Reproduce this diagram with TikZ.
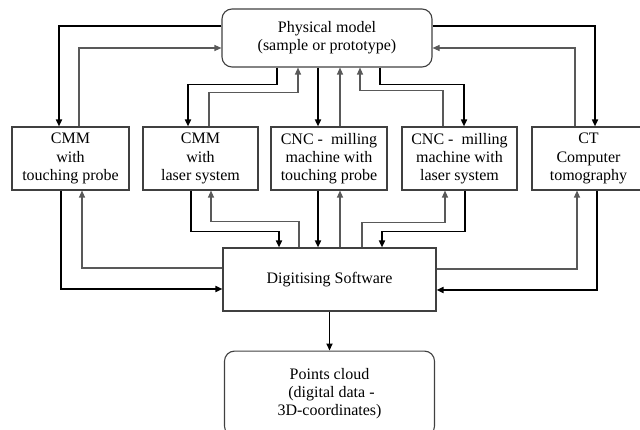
\documentclass[tikz,border=0pt]{standalone}
\usepackage{fontspec}
\setmainfont{Liberation Serif}
\usetikzlibrary{arrows.meta, positioning}

\begin{document}
\begin{tikzpicture}[x=1pt, y=1pt,
    box/.style={draw=black!75, line width=1.1pt, align=center, minimum height=63pt, inner sep=2pt, font=\fontsize{16}{18.3}\selectfont},
    rbox/.style={box, rounded corners=10pt},
    fwd/.style={-{Triangle[length=7pt,width=6pt]}, line width=1.6pt, black},
    back/.style={-{Triangle[length=7pt,width=6pt]}, line width=1.1pt, black!65}]
    \useasboundingbox (0,0) rectangle (640,-430);

    \node[rbox, minimum width=210pt, minimum height=58pt] (pm) at (327,-38) {Physical model\\(sample or prototype)};
    \node[box, minimum width=117pt] (cmm1) at (70.5,-158.5) {CMM\\with\\touching probe};
    \node[box, minimum width=115pt] (cmm2) at (200.5,-158.5) {CMM\\with\\laser system};
    \node[box, minimum width=116pt] (cnc1) at (329,-158.5) {CNC -\ \ milling\\machine with\\touching probe};
    \node[box, minimum width=115pt] (cnc2) at (459.5,-158.5) {CNC -\ \ milling\\machine with\\laser system};
    \node[box, minimum width=113pt] (ct) at (588.5,-158.5) {CT\\Computer\\tomography};
    \node[box, minimum width=213pt] (ds) at (329.5,-279.5) {Digitising Software};
    \node[rbox, minimum width=210pt, minimum height=85pt, below=39pt of ds] (pc) {Points cloud\\\ (digital data -\\3D-coordinates)};

    % model <-> measuring devices
    \draw[fwd] ([yshift=12]pm.west) -| ([xshift=-11.5]cmm1.north);
    \draw[back] ([xshift=8.5]cmm1.north) |- ([yshift=-10]pm.west);
    \draw[fwd] ([xshift=-50]pm.south) -- ++(0,-17) -| ([xshift=-12.5]cmm2.north);
    \draw[back] ([xshift=8.5]cmm2.north) -- ++(0,34) -| ([xshift=-29]pm.south);
    \draw[fwd] ([xshift=-11]cnc1.north |- pm.south) -- ([xshift=-11]cnc1.north);
    \draw[back] ([xshift=11]cnc1.north) -- ([xshift=11]cnc1.north |- pm.south);
    \draw[back] ([xshift=-16.5]cnc2.north) -- ++(0,36) -| ([xshift=33]pm.south);
    \draw[fwd] ([xshift=53]pm.south) -- ++(0,-17) -| ([xshift=4.5]cnc2.north);
    \draw[fwd] ([yshift=12]pm.east) -| ([xshift=6.5]ct.north);
    \draw[back] ([xshift=-13.5]ct.north) |- ([yshift=-10]pm.east);

    % measuring devices <-> software
    \draw[fwd] ([xshift=-9.5]cmm1.south) |- ([yshift=-9.5]ds.west);
    \draw[back] ([yshift=11.5]ds.west) -| ([xshift=11.5]cmm1.south);
    \draw[fwd] ([xshift=-9.5]cmm2.south) -- ++(0,-41) -| ([xshift=-50.5]ds.north);
    \draw[back] ([xshift=-30.5]ds.north) -- ++(0,26) -| ([xshift=10.5]cmm2.south);
    \draw[fwd] ([xshift=-11]cnc1.south) -- ([xshift=-11]cnc1.south |- ds.north);
    \draw[back] ([xshift=11]cnc1.south |- ds.north) -- ([xshift=11]cnc1.south);
    \draw[back] ([xshift=32.5]ds.north) -- ++(0,25) -| ([xshift=-14.5]cnc2.south);
    \draw[fwd] ([xshift=5.5]cnc2.south) -- ++(0,-41) -| ([xshift=52.5]ds.north);
    \draw[back] ([yshift=10.5]ds.east) -| ([xshift=-11.5]ct.south);
    \draw[fwd] ([xshift=8.5]ct.south) |- ([yshift=-10.5]ds.east);

    \draw[fwd] (ds.south -| pc.north) -- (pc.north);
\end{tikzpicture}
\end{document}
